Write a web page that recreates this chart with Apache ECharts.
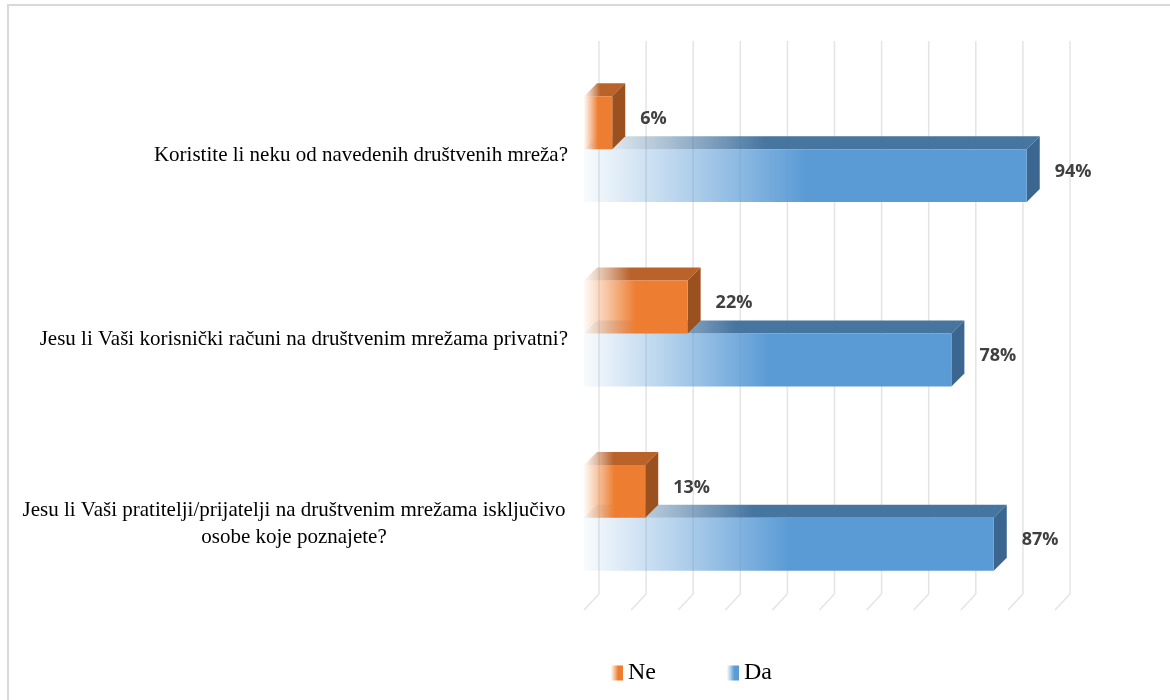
<!DOCTYPE html>
<html>
<head>
<meta charset="utf-8">
<script src="https://cdn.jsdelivr.net/npm/echarts@6/dist/echarts.min.js"></script>
<style>
  html, body { margin: 0; padding: 0; background: #fff; }
  #chart { width: 1170px; height: 700px; }
</style>
</head>
<body>
<div id="chart"></div>
<script>
// categories (top to bottom)
var categories = [
  'Koristite li neku od navedenih društvenih mreža?',
  'Jesu li Vaši korisnički računi na društvenim mrežama privatni?',
  'Jesu li Vaši pratitelji/prijatelji na društvenim mrežama isključivo\nosobe koje poznajete?'
];
var neValues = [6, 22, 13];
var daValues = [94, 78, 87];
var xTicks = [0, 10, 20, 30, 40, 50, 60, 70, 80, 90, 100];

var serifFont = '"Liberation Serif", "Times New Roman", serif';
var labelFont = '"Liberation Sans Narrow", "Open Sans", sans-serif';

// 3d depth of the bars and the back wall
var DX = 13, DY = 13;
var WX = 15, WY = 16;

function fade(rgb, stopAt) {
  return new echarts.graphic.LinearGradient(0, 0, 1, 0, [
    { offset: 0, color: 'rgba(' + rgb + ',0.04)' },
    { offset: stopAt * 0.45, color: 'rgba(' + rgb + ',0.45)' },
    { offset: stopAt, color: 'rgba(' + rgb + ',1)' },
    { offset: 1, color: 'rgba(' + rgb + ',1)' }
  ]);
}

var looks = {
  Ne: { front: '237,125,49', top: '185,98,42', side: '#9B501F', above: true },
  Da: { front: '91,155,213', top: '70,117,160', side: '#3A6690', above: false }
};

function makeBar(name) {
  var look = looks[name];
  return function (params, api) {
    var val = api.value(0);
    var cat = api.value(1);
    var start = api.coord([0, cat]);
    var end = api.coord([val, cat]);
    var band = api.size([0, 1])[1];
    var h = band * 0.287;
    var y0 = look.above ? start[1] - h : start[1];
    var y1 = y0 + h;
    var x0 = start[0], x1 = end[0];
    return {
      type: 'group',
      children: [
        {
          type: 'polygon',
          shape: { points: [[x0, y0], [x1, y0], [x1 + DX, y0 - DY], [x0 + DX, y0 - DY]] },
          style: { fill: fade(look.top, 0.4) }
        },
        {
          type: 'polygon',
          shape: { points: [[x1, y0], [x1 + DX, y0 - DY], [x1 + DX, y1 - DY], [x1, y1]] },
          style: { fill: look.side }
        },
        {
          type: 'rect',
          shape: { x: x0, y: y0, width: x1 - x0, height: h },
          style: { fill: fade(look.front, 0.5) }
        },
        {
          type: 'text',
          x: x1 + 28,
          y: (y0 + y1) / 2 - 4,
          style: {
            text: val + '%',
            fill: '#404040',
            font: 'bold 18px ' + labelFont,
            verticalAlign: 'middle'
          }
        }
      ]
    };
  };
}

function renderWall(params, api) {
  var x = api.coord([api.value(0), 0])[0];
  var cs = params.coordSys;
  var top = cs.y, bottom = cs.y + cs.height;
  var lineStyle = { stroke: '#E4E4E4', lineWidth: 1.5 };
  return {
    type: 'group',
    children: [
      { type: 'line', shape: { x1: x + WX, y1: top - WY, x2: x + WX, y2: bottom - WY }, style: lineStyle },
      { type: 'line', shape: { x1: x, y1: bottom, x2: x + WX, y2: bottom - WY }, style: lineStyle }
    ]
  };
}

var chart = echarts.init(document.getElementById('chart'));

var option = {
  backgroundColor: '#fff',
  animation: false,
  graphic: [{
    type: 'rect',
    shape: { x: 8, y: 5, width: 1180, height: 720 },
    style: { fill: 'none', stroke: '#D9D9D9', lineWidth: 2 },
    silent: true
  }],
  grid: { left: 584, right: 115, top: 57, bottom: 90 },
  legend: {
    data: ['Ne', 'Da'],
    left: 606,
    top: 656,
    itemWidth: 12,
    itemHeight: 15,
    itemGap: 71,
    icon: 'rect',
    textStyle: { fontFamily: serifFont, fontSize: 24, color: '#000' }
  },
  xAxis: {
    type: 'value',
    min: 0,
    max: 100,
    interval: 10,
    show: false
  },
  yAxis: {
    type: 'category',
    inverse: true,
    data: categories,
    axisLine: { show: false },
    axisTick: { show: false },
    splitLine: { show: false },
    axisLabel: {
      margin: 16,
      padding: [12, 0, 0, 0],
      color: '#000',
      fontFamily: serifFont,
      fontSize: 21,
      formatter: function (v) {
        if (v.indexOf('\n') < 0) return v;
        return v.split('\n').map(function (s) { return '{c|' + s + '}'; }).join('\n');
      },
      rich: {
        c: { width: 548, align: 'center', fontFamily: serifFont, fontSize: 21, color: '#000', lineHeight: 27 }
      }
    }
  },
  series: [
    {
      type: 'custom',
      name: 'wall',
      silent: true,
      z: 1,
      renderItem: renderWall,
      encode: { x: 0, y: 1 },
      data: xTicks.map(function (t) { return [t, 0]; })
    },
    {
      type: 'custom',
      name: 'Ne',
      z: 3,
      itemStyle: { color: fade('237,125,49', 0.6) },
      renderItem: makeBar('Ne'),
      encode: { x: 0, y: 1 },
      data: neValues.map(function (v, i) { return [v, i]; })
    },
    {
      type: 'custom',
      name: 'Da',
      z: 2,
      itemStyle: { color: fade('91,155,213', 0.6) },
      renderItem: makeBar('Da'),
      encode: { x: 0, y: 1 },
      data: daValues.map(function (v, i) { return [v, i]; })
    }
  ]
};

chart.setOption(option);
</script>
</body>
</html>
